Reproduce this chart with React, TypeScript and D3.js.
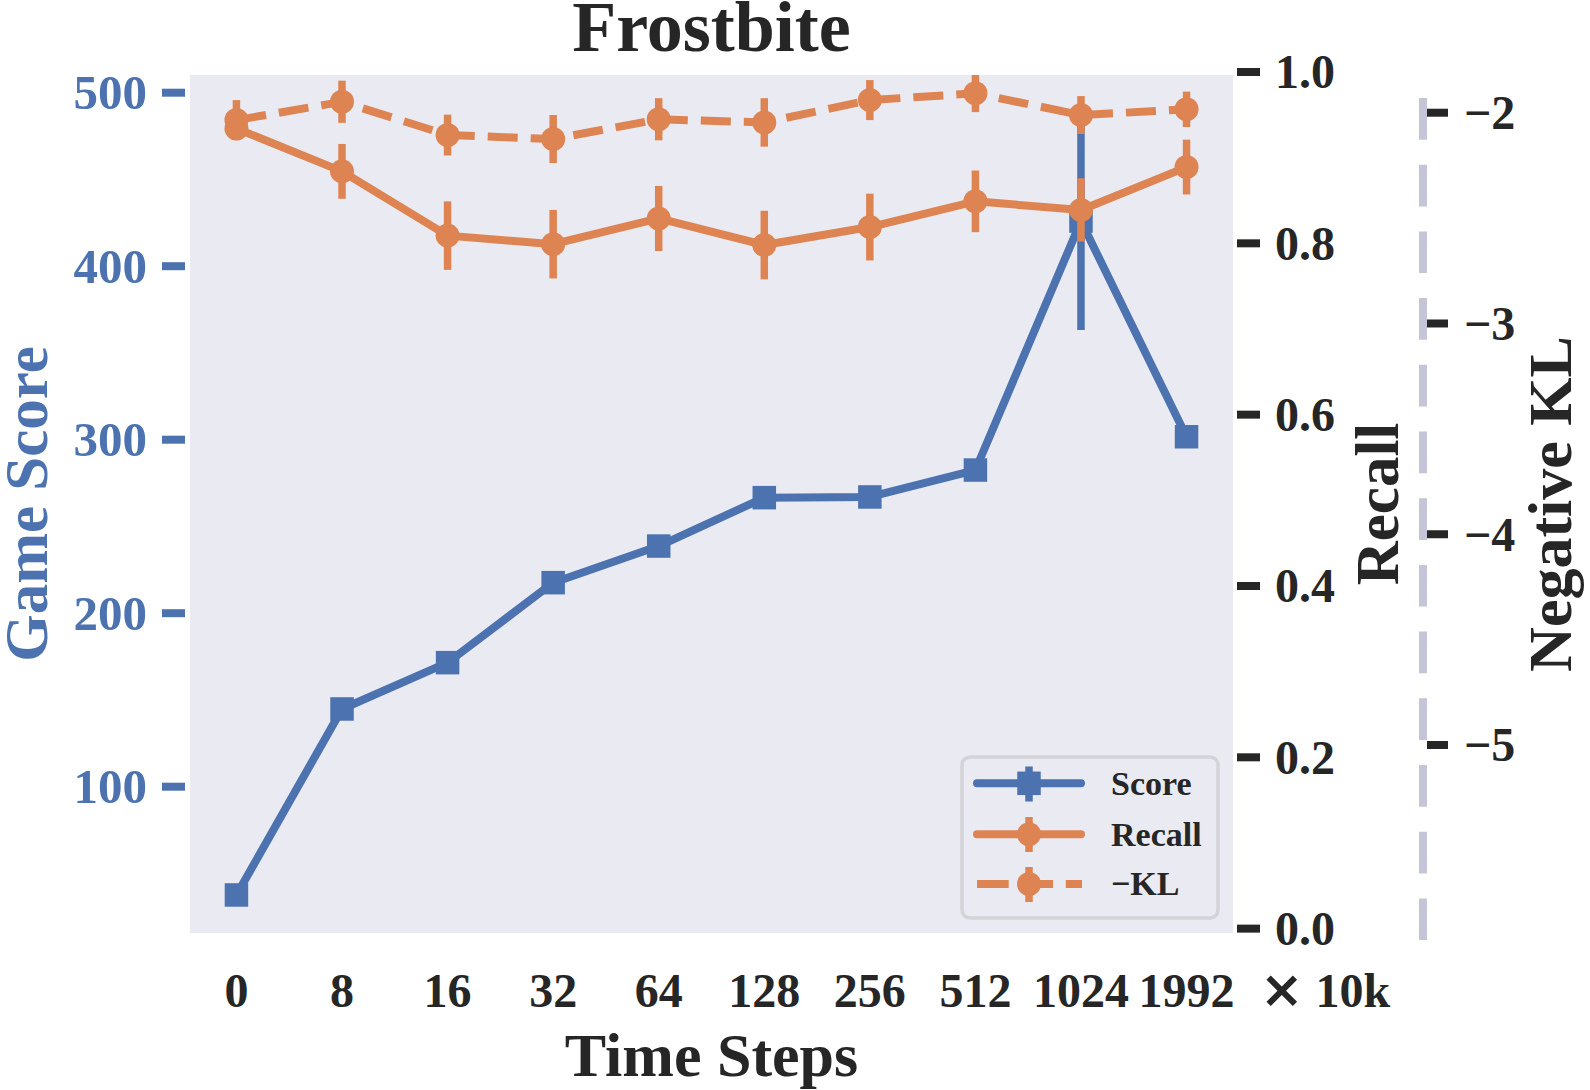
import React from 'react';
import * as d3 from 'd3';

const steps = ['0', '8', '16', '32', '64', '128', '256', '512', '1024', '1992'];
const scoreMean = [37.6, 144.8, 171.5, 217.6, 238.7, 266.6, 267.0, 282.5, 426.0, 301.7];
const scoreErr = [3, 4, 3, 4, 3, 4, 3, 4, 62.8, 4];
const recallMean = [0.934, 0.884, 0.809, 0.799, 0.829, 0.798, 0.819, 0.849, 0.839, 0.889];
const recallErr = [0.012, 0.032, 0.04, 0.04, 0.038, 0.04, 0.039, 0.036, 0.037, 0.032];
const negKLMean = [-2.035, -1.948, -2.106, -2.125, -2.031, -2.046, -1.94, -1.908, -2.011, -1.984];
const negKLErr = [0.095, 0.1, 0.097, 0.114, 0.1, 0.115, 0.095, 0.089, 0.09, 0.084];
const scoreTicks = [100, 200, 300, 400, 500];
const recallTicks = [0, 0.2, 0.4, 0.6, 0.8, 1.0];
const klTicks = [-2, -3, -4, -5];

const W = 1590;
const H = 1090;
const L = 190, R = 1233, T = 75, B = 933;
const BLUE = '#4c72b0';
const ORANGE = '#dd8452';
const DARK = '#262626';
const FONT = "'Liberation Serif', 'Times New Roman', serif";

export default function App() {
  const x = d3.scaleLinear().domain([-0.44, steps.length - 1 + 0.44]).range([L, R]);
  const yS = d3.scaleLinear().domain([15.68, 510.2]).range([B, T]);
  const yR = d3.scaleLinear().domain([-0.0051, 0.9965]).range([B, T]);
  const yK = d3.scaleLinear().domain([-5.892, -1.821]).range([B, T]);

  const idx = steps.map((_, i) => i);
  const line = (ys: d3.ScaleLinear<number, number>, vals: number[]) =>
    d3.line<number>().x((i) => x(i)).y((i) => ys(vals[i]))(idx) || '';

  const minus = (v: number) => (v < 0 ? '\u2212' + Math.abs(v) : String(v));

  const lw = 8;
  const sq = 23.5;
  const cr = 12;

  return (
    <svg width={W} height={H} style={{ position: 'absolute', left: 0, top: 0, background: '#fff' }}
      fontFamily={FONT} fontWeight="bold">
      <defs>
        <clipPath id="plotclip">
          <rect x={L} y={T} width={R - L} height={B - T} />
        </clipPath>
      </defs>
      <rect x={L} y={T} width={R - L} height={B - T} fill="#eaeaf2" />

      <g clipPath="url(#plotclip)">
        {/* Score */}
        {idx.map((i) => (
          <line key={'se' + i} x1={x(i)} x2={x(i)} y1={yS(scoreMean[i] - scoreErr[i])} y2={yS(scoreMean[i] + scoreErr[i])}
            stroke={BLUE} strokeWidth={7.5} />
        ))}
        <path d={line(yS, scoreMean)} fill="none" stroke={BLUE} strokeWidth={lw} strokeLinejoin="round" />
        {idx.map((i) => (
          <rect key={'sm' + i} x={x(i) - sq / 2} y={yS(scoreMean[i]) - sq / 2} width={sq} height={sq} fill={BLUE} />
        ))}

        {/* Recall */}
        {idx.map((i) => (
          <line key={'re' + i} x1={x(i)} x2={x(i)} y1={yR(recallMean[i] - recallErr[i])} y2={yR(recallMean[i] + recallErr[i])}
            stroke={ORANGE} strokeWidth={7.5} />
        ))}
        <path d={line(yR, recallMean)} fill="none" stroke={ORANGE} strokeWidth={lw} strokeLinejoin="round" />
        {idx.map((i) => (
          <circle key={'rm' + i} cx={x(i)} cy={yR(recallMean[i])} r={cr} fill={ORANGE} />
        ))}

        {/* -KL */}
        {idx.map((i) => (
          <line key={'ke' + i} x1={x(i)} x2={x(i)} y1={yK(negKLMean[i] - negKLErr[i])} y2={yK(negKLMean[i] + negKLErr[i])}
            stroke={ORANGE} strokeWidth={7.5} />
        ))}
        <path d={line(yK, negKLMean)} fill="none" stroke={ORANGE} strokeWidth={lw} strokeDasharray="30 13" />
        {idx.map((i) => (
          <circle key={'km' + i} cx={x(i)} cy={yK(negKLMean[i])} r={cr} fill={ORANGE} />
        ))}
      </g>

      {/* Left axis: Game Score */}
      {scoreTicks.map((t) => (
        <g key={'st' + t}>
          <line x1={162} x2={185} y1={yS(t)} y2={yS(t)} stroke={BLUE} strokeWidth={8} />
          <text x={147} y={yS(t)} dy="0.34em" textAnchor="end" fontSize={49} fill={BLUE}>{t}</text>
        </g>
      ))}
      <text transform={`translate(47, ${(T + B) / 2}) rotate(-90)`} textAnchor="middle" fontSize={61} fill={BLUE}>Game Score</text>

      {/* Recall axis */}
      {recallTicks.map((t) => (
        <g key={'rt' + t}>
          <line x1={1237} x2={1260} y1={yR(t)} y2={yR(t)} stroke={DARK} strokeWidth={8} />
          <text x={1275} y={yR(t)} dy="0.34em" textAnchor="start" fontSize={48} fill={DARK}>{t.toFixed(1)}</text>
        </g>
      ))}
      <text transform={`translate(1398, ${(T + B) / 2}) rotate(-90)`} textAnchor="middle" fontSize={61} fill={DARK}>Recall</text>

      {/* Negative KL axis */}
      <line x1={1423} x2={1423} y1={98} y2={940} stroke="#c5c5d8" strokeWidth={8} strokeDasharray="41.7 25" />
      {klTicks.map((t) => (
        <g key={'kt' + t}>
          <line x1={1427} x2={1448} y1={yK(t)} y2={yK(t)} stroke={DARK} strokeWidth={8} />
          <text x={1464} y={yK(t)} dy="0.34em" textAnchor="start" fontSize={48} fill={DARK}>{minus(t)}</text>
        </g>
      ))}
      <text transform={`translate(1571, ${(T + B) / 2}) rotate(-90)`} textAnchor="middle" fontSize={62} fill={DARK}>Negative KL</text>

      {/* X axis */}
      {steps.map((s, i) => (
        <text key={'xt' + s} x={x(i)} y={1007} textAnchor="middle" fontSize={48} fill={DARK}>{s}</text>
      ))}
      <text x={1260} y={1007} textAnchor="start" fontSize={48} fill={DARK}>
        <tspan fontSize={52} fontFamily="'DejaVu Sans', sans-serif">{'\u00d7'}</tspan>
        <tspan>{' 10k'}</tspan>
      </text>
      <text x={(L + R) / 2} y={1076} textAnchor="middle" fontSize={62} fill={DARK}>Time Steps</text>

      {/* Title */}
      <text x={(L + R) / 2} y={51} textAnchor="middle" fontSize={72} fill={DARK}>Frostbite</text>

      {/* Legend */}
      <g>
        <rect x={962} y={757} width={256} height={161} rx={8} fill="#eaeaf2" stroke="#d4d4d8" strokeWidth={3.5} />
        {/* Score */}
        <line x1={977} x2={1081} y1={783.3} y2={783.3} stroke={BLUE} strokeWidth={lw} strokeLinecap="round" />
        <line x1={1029} x2={1029} y1={766.5} y2={801.5} stroke={BLUE} strokeWidth={7.5} />
        <rect x={1029 - sq / 2} y={783.3 - sq / 2} width={sq} height={sq} fill={BLUE} />
        <text x={1111} y={783.3} dy="0.33em" fontSize={34} fill={DARK}>Score</text>
        {/* Recall */}
        <line x1={977} x2={1081} y1={834.3} y2={834.3} stroke={ORANGE} strokeWidth={lw} strokeLinecap="round" />
        <line x1={1029} x2={1029} y1={817} y2={852} stroke={ORANGE} strokeWidth={7.5} />
        <circle cx={1029} cy={834.3} r={cr} fill={ORANGE} />
        <text x={1111} y={834.3} dy="0.33em" fontSize={34} fill={DARK}>Recall</text>
        {/* -KL */}
        <line x1={977} x2={1082} y1={884} y2={884} stroke={ORANGE} strokeWidth={lw} strokeDasharray="31.7 12.7" />
        <line x1={1029} x2={1029} y1={867} y2={902} stroke={ORANGE} strokeWidth={7.5} />
        <circle cx={1029} cy={884} r={cr} fill={ORANGE} />
        <text x={1111} y={884} dy="0.33em" fontSize={34} fill={DARK}>{'\u2212KL'}</text>
      </g>
    </svg>
  );
}
